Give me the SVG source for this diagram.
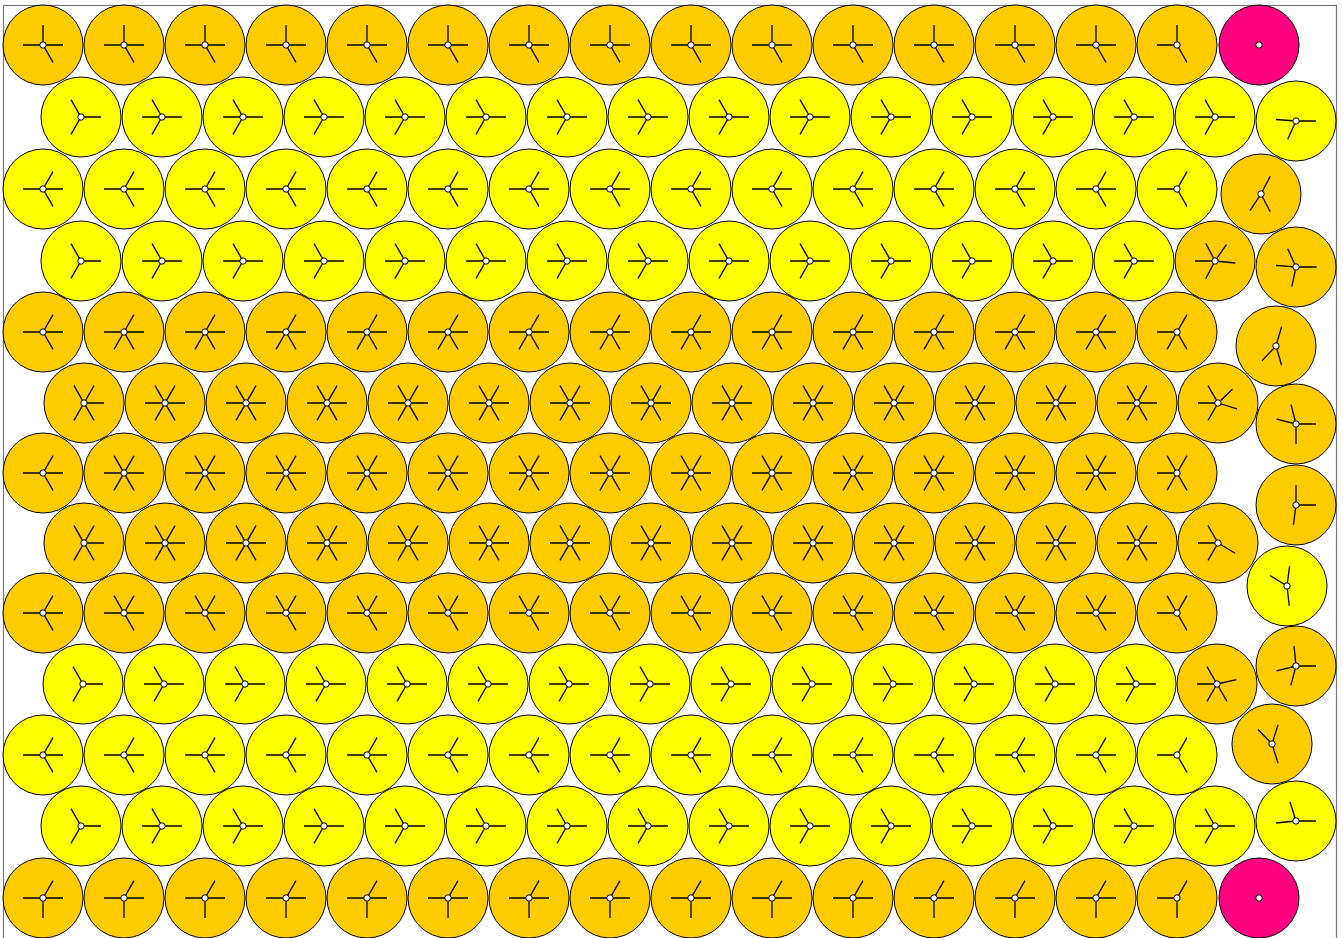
<svg xmlns="http://www.w3.org/2000/svg" xmlns:xlink="http://www.w3.org/1999/xlink" width="1343" height="938" viewBox="0 0 1343 938">
<style>
.o{fill:#FFCC00;stroke:#000;stroke-width:1}
.y{fill:#FFFF00;stroke:#000;stroke-width:1}
.m{fill:#FF0080;stroke:#000;stroke-width:1}
.s{fill:none;stroke:#000;stroke-width:1.3}
.d{fill:#fff;stroke:#000;stroke-width:1}
</style>
<defs>
<g id="P0"><path class="s" d="M-20 0H20M0 0V-20M0 0L10 17.32"/><circle class="d" r="3.2"/></g>
<g id="P0e"><path class="s" d="M-20 0H0V-20M0 0L10 17.32"/><circle class="d" r="3.2"/></g>
<g id="P1s"><path class="s" d="M20 0H0L-10 -17.32M0 0L-10 17.32"/><circle class="d" r="3.2"/></g>
<g id="P1"><path class="s" d="M-20 0H20M0 0L-10 -17.32M0 0L-10 17.32"/><circle class="d" r="3.2"/></g>
<g id="P2"><path class="s" d="M-20 0H20M0 0L10 -17.32M0 0L10 17.32"/><circle class="d" r="3.2"/></g>
<g id="P2e"><path class="s" d="M-20 0H0L10 -17.32M0 0L10 17.32"/><circle class="d" r="3.2"/></g>
<g id="P4"><path class="s" d="M-20 0H20M0 0L10 -17.32M0 0L10 17.32M0 0L-10 17.32"/><circle class="d" r="3.2"/></g>
<g id="P4e"><path class="s" d="M-20 0H0L10 -17.32M0 0L10 17.32M0 0L-10 17.32"/><circle class="d" r="3.2"/></g>
<g id="P5s"><path class="s" d="M20 0H0L-10 -17.32M0 0L10 -17.32M0 0L-10 17.32M0 0L10 17.32"/><circle class="d" r="3.2"/></g>
<g id="P6"><path class="s" d="M-20 0H20M-10 -17.32L10 17.32M10 -17.32L-10 17.32"/><circle class="d" r="3.2"/></g>
<g id="P6e"><path class="s" d="M-20 0H0L-10 -17.32M0 0L10 -17.32M0 0L-10 17.32M0 0L10 17.32"/><circle class="d" r="3.2"/></g>
<g id="P8"><path class="s" d="M-20 0H20M0 0L-10 -17.32M0 0L10 -17.32M0 0L10 17.32"/><circle class="d" r="3.2"/></g>
<g id="P8e"><path class="s" d="M-20 0H0L-10 -17.32M0 0L10 -17.32M0 0L10 17.32"/><circle class="d" r="3.2"/></g>
<g id="P12"><path class="s" d="M-20 0H20M0 0L10 -17.32M0 0V20"/><circle class="d" r="3.2"/></g>
<g id="P12e"><path class="s" d="M-20 0H0L10 -17.32M0 0V20"/><circle class="d" r="3.2"/></g>
<g id="PM"><circle class="d" r="3.2"/></g>
</defs>
<rect width="1343" height="938" fill="#fff"/>
<rect x="3.5" y="5.5" width="1333" height="940" fill="none" stroke="#777" stroke-width="1.2"/>
<g id="connectors"></g>

<!-- Row 0 -->
<g id="r0c0"><circle class="o" cx="43" cy="45" r="40"/><use href="#P0" x="43" y="45"/></g>
<g id="r0c1"><circle class="o" cx="124" cy="45" r="40"/><use href="#P0" x="124" y="45"/></g>
<g id="r0c2"><circle class="o" cx="205" cy="45" r="40"/><use href="#P0" x="205" y="45"/></g>
<g id="r0c3"><circle class="o" cx="286" cy="45" r="40"/><use href="#P0" x="286" y="45"/></g>
<g id="r0c4"><circle class="o" cx="367" cy="45" r="40"/><use href="#P0" x="367" y="45"/></g>
<g id="r0c5"><circle class="o" cx="448" cy="45" r="40"/><use href="#P0" x="448" y="45"/></g>
<g id="r0c6"><circle class="o" cx="529" cy="45" r="40"/><use href="#P0" x="529" y="45"/></g>
<g id="r0c7"><circle class="o" cx="610" cy="45" r="40"/><use href="#P0" x="610" y="45"/></g>
<g id="r0c8"><circle class="o" cx="691" cy="45" r="40"/><use href="#P0" x="691" y="45"/></g>
<g id="r0c9"><circle class="o" cx="772" cy="45" r="40"/><use href="#P0" x="772" y="45"/></g>
<g id="r0c10"><circle class="o" cx="853" cy="45" r="40"/><use href="#P0" x="853" y="45"/></g>
<g id="r0c11"><circle class="o" cx="934" cy="45" r="40"/><use href="#P0" x="934" y="45"/></g>
<g id="r0c12"><circle class="o" cx="1015" cy="45" r="40"/><use href="#P0" x="1015" y="45"/></g>
<g id="r0c13"><circle class="o" cx="1096" cy="45" r="40"/><use href="#P0" x="1096" y="45"/></g>
<g id="r0c14"><circle class="o" cx="1177" cy="45" r="40"/><use href="#P0e" x="1177" y="45"/></g>
<g id="r0c15"><circle class="m" cx="1259" cy="45" r="40"/><use href="#PM" x="1259" y="45"/></g>

<!-- Row 1 -->
<g id="r1c0"><circle class="y" cx="81" cy="117" r="40"/><use href="#P1s" x="81" y="117"/></g>
<g id="r1c1"><circle class="y" cx="162" cy="117" r="40"/><use href="#P1" x="162" y="117"/></g>
<g id="r1c2"><circle class="y" cx="243" cy="117" r="40"/><use href="#P1" x="243" y="117"/></g>
<g id="r1c3"><circle class="y" cx="324" cy="117" r="40"/><use href="#P1" x="324" y="117"/></g>
<g id="r1c4"><circle class="y" cx="405" cy="117" r="40"/><use href="#P1" x="405" y="117"/></g>
<g id="r1c5"><circle class="y" cx="486" cy="117" r="40"/><use href="#P1" x="486" y="117"/></g>
<g id="r1c6"><circle class="y" cx="567" cy="117" r="40"/><use href="#P1" x="567" y="117"/></g>
<g id="r1c7"><circle class="y" cx="648" cy="117" r="40"/><use href="#P1" x="648" y="117"/></g>
<g id="r1c8"><circle class="y" cx="729" cy="117" r="40"/><use href="#P1" x="729" y="117"/></g>
<g id="r1c9"><circle class="y" cx="810" cy="117" r="40"/><use href="#P1" x="810" y="117"/></g>
<g id="r1c10"><circle class="y" cx="891" cy="117" r="40"/><use href="#P1" x="891" y="117"/></g>
<g id="r1c11"><circle class="y" cx="972" cy="117" r="40"/><use href="#P1" x="972" y="117"/></g>
<g id="r1c12"><circle class="y" cx="1053" cy="117" r="40"/><use href="#P1" x="1053" y="117"/></g>
<g id="r1c13"><circle class="y" cx="1134" cy="117" r="40"/><use href="#P1" x="1134" y="117"/></g>
<g id="r1c14"><circle class="y" cx="1215" cy="117" r="40"/><use href="#P1" x="1215" y="117"/></g>
<g id="r1c15"><circle class="y" cx="1296" cy="121" r="40"/><path class="s" transform="translate(1296 121)" d="M-20 -1.5L0 0L20 0M0 0L-8.3 18.2"/><circle class="d" cx="1296" cy="121" r="3.2"/></g>

<!-- Row 2 -->
<g id="r2c0"><circle class="y" cx="43" cy="189" r="40"/><use href="#P2" x="43" y="189"/></g>
<g id="r2c1"><circle class="y" cx="124" cy="189" r="40"/><use href="#P2" x="124" y="189"/></g>
<g id="r2c2"><circle class="y" cx="205" cy="189" r="40"/><use href="#P2" x="205" y="189"/></g>
<g id="r2c3"><circle class="y" cx="286" cy="189" r="40"/><use href="#P2" x="286" y="189"/></g>
<g id="r2c4"><circle class="y" cx="367" cy="189" r="40"/><use href="#P2" x="367" y="189"/></g>
<g id="r2c5"><circle class="y" cx="448" cy="189" r="40"/><use href="#P2" x="448" y="189"/></g>
<g id="r2c6"><circle class="y" cx="529" cy="189" r="40"/><use href="#P2" x="529" y="189"/></g>
<g id="r2c7"><circle class="y" cx="610" cy="189" r="40"/><use href="#P2" x="610" y="189"/></g>
<g id="r2c8"><circle class="y" cx="691" cy="189" r="40"/><use href="#P2" x="691" y="189"/></g>
<g id="r2c9"><circle class="y" cx="772" cy="189" r="40"/><use href="#P2" x="772" y="189"/></g>
<g id="r2c10"><circle class="y" cx="853" cy="189" r="40"/><use href="#P2" x="853" y="189"/></g>
<g id="r2c11"><circle class="y" cx="934" cy="189" r="40"/><use href="#P2" x="934" y="189"/></g>
<g id="r2c12"><circle class="y" cx="1015" cy="189" r="40"/><use href="#P2" x="1015" y="189"/></g>
<g id="r2c13"><circle class="y" cx="1096" cy="189" r="40"/><use href="#P2" x="1096" y="189"/></g>
<g id="r2c14"><circle class="y" cx="1177" cy="189" r="40"/><use href="#P2e" x="1177" y="189"/></g>
<g id="r2c15"><circle class="o" cx="1261" cy="194" r="40"/><path class="s" transform="translate(1261 194)" d="M9.2 -17.8L0 0L-11 16.7M0 0L9.2 17.8"/><circle class="d" cx="1261" cy="194" r="3.2"/></g>

<!-- Row 3 -->
<g id="r3c0"><circle class="y" cx="81" cy="261" r="40"/><use href="#P1s" x="81" y="261"/></g>
<g id="r3c1"><circle class="y" cx="162" cy="261" r="40"/><use href="#P1" x="162" y="261"/></g>
<g id="r3c2"><circle class="y" cx="243" cy="261" r="40"/><use href="#P1" x="243" y="261"/></g>
<g id="r3c3"><circle class="y" cx="324" cy="261" r="40"/><use href="#P1" x="324" y="261"/></g>
<g id="r3c4"><circle class="y" cx="405" cy="261" r="40"/><use href="#P1" x="405" y="261"/></g>
<g id="r3c5"><circle class="y" cx="486" cy="261" r="40"/><use href="#P1" x="486" y="261"/></g>
<g id="r3c6"><circle class="y" cx="567" cy="261" r="40"/><use href="#P1" x="567" y="261"/></g>
<g id="r3c7"><circle class="y" cx="648" cy="261" r="40"/><use href="#P1" x="648" y="261"/></g>
<g id="r3c8"><circle class="y" cx="729" cy="261" r="40"/><use href="#P1" x="729" y="261"/></g>
<g id="r3c9"><circle class="y" cx="810" cy="261" r="40"/><use href="#P1" x="810" y="261"/></g>
<g id="r3c10"><circle class="y" cx="891" cy="261" r="40"/><use href="#P1" x="891" y="261"/></g>
<g id="r3c11"><circle class="y" cx="972" cy="261" r="40"/><use href="#P1" x="972" y="261"/></g>
<g id="r3c12"><circle class="y" cx="1053" cy="261" r="40"/><use href="#P1" x="1053" y="261"/></g>
<g id="r3c13"><circle class="y" cx="1134" cy="261" r="40"/><use href="#P1" x="1134" y="261"/></g>
<g id="r3c14"><circle class="o" cx="1215" cy="261" r="40"/><path class="s" transform="translate(1215 261)" d="M-20 0H0L20.3 2M0 0L-9.3 -17.7M0 0L11.4 -16.4M0 0L-9.3 17.7"/><circle class="d" cx="1215" cy="261" r="3.2"/></g>
<g id="r3c15"><circle class="o" cx="1296" cy="267" r="40"/><path class="s" transform="translate(1296 267)" d="M-20 -1.6L0 0L20.5 0M0 0L-8.3 -18.2M0 0L-4.2 19.6"/><circle class="d" cx="1296" cy="267" r="3.2"/></g>

<!-- Row 4 -->
<g id="r4c0"><circle class="o" cx="43" cy="332" r="40"/><use href="#P2" x="43" y="332"/></g>
<g id="r4c1"><circle class="o" cx="124" cy="332" r="40"/><use href="#P4" x="124" y="332"/></g>
<g id="r4c2"><circle class="o" cx="205" cy="332" r="40"/><use href="#P4" x="205" y="332"/></g>
<g id="r4c3"><circle class="o" cx="286" cy="332" r="40"/><use href="#P4" x="286" y="332"/></g>
<g id="r4c4"><circle class="o" cx="367" cy="332" r="40"/><use href="#P4" x="367" y="332"/></g>
<g id="r4c5"><circle class="o" cx="448" cy="332" r="40"/><use href="#P4" x="448" y="332"/></g>
<g id="r4c6"><circle class="o" cx="529" cy="332" r="40"/><use href="#P4" x="529" y="332"/></g>
<g id="r4c7"><circle class="o" cx="610" cy="332" r="40"/><use href="#P4" x="610" y="332"/></g>
<g id="r4c8"><circle class="o" cx="691" cy="332" r="40"/><use href="#P4" x="691" y="332"/></g>
<g id="r4c9"><circle class="o" cx="772" cy="332" r="40"/><use href="#P4" x="772" y="332"/></g>
<g id="r4c10"><circle class="o" cx="853" cy="332" r="40"/><use href="#P4" x="853" y="332"/></g>
<g id="r4c11"><circle class="o" cx="934" cy="332" r="40"/><use href="#P4" x="934" y="332"/></g>
<g id="r4c12"><circle class="o" cx="1015" cy="332" r="40"/><use href="#P4" x="1015" y="332"/></g>
<g id="r4c13"><circle class="o" cx="1096" cy="332" r="40"/><use href="#P4" x="1096" y="332"/></g>
<g id="r4c14"><circle class="o" cx="1177" cy="332" r="40"/><use href="#P4e" x="1177" y="332"/></g>
<g id="r4c15"><circle class="o" cx="1276" cy="346" r="40"/><path class="s" transform="translate(1276 346)" d="M5.6 -19.2L0 0L-14 14.6M0 0L5.6 19.2"/><circle class="d" cx="1276" cy="346" r="3.2"/></g>

<!-- Row 5 -->
<g id="r5c0"><circle class="o" cx="84" cy="403" r="40"/><use href="#P5s" x="84" y="403"/></g>
<g id="r5c1"><circle class="o" cx="165" cy="403" r="40"/><use href="#P6" x="165" y="403"/></g>
<g id="r5c2"><circle class="o" cx="246" cy="403" r="40"/><use href="#P6" x="246" y="403"/></g>
<g id="r5c3"><circle class="o" cx="327" cy="403" r="40"/><use href="#P6" x="327" y="403"/></g>
<g id="r5c4"><circle class="o" cx="408" cy="403" r="40"/><use href="#P6" x="408" y="403"/></g>
<g id="r5c5"><circle class="o" cx="489" cy="403" r="40"/><use href="#P6" x="489" y="403"/></g>
<g id="r5c6"><circle class="o" cx="570" cy="403" r="40"/><use href="#P6" x="570" y="403"/></g>
<g id="r5c7"><circle class="o" cx="651" cy="403" r="40"/><use href="#P6" x="651" y="403"/></g>
<g id="r5c8"><circle class="o" cx="732" cy="403" r="40"/><use href="#P6" x="732" y="403"/></g>
<g id="r5c9"><circle class="o" cx="813" cy="403" r="40"/><use href="#P6" x="813" y="403"/></g>
<g id="r5c10"><circle class="o" cx="894" cy="403" r="40"/><use href="#P6" x="894" y="403"/></g>
<g id="r5c11"><circle class="o" cx="975" cy="403" r="40"/><use href="#P6" x="975" y="403"/></g>
<g id="r5c12"><circle class="o" cx="1056" cy="403" r="40"/><use href="#P6" x="1056" y="403"/></g>
<g id="r5c13"><circle class="o" cx="1137" cy="403" r="40"/><use href="#P6" x="1137" y="403"/></g>
<g id="r5c14"><circle class="o" cx="1218" cy="403" r="40"/><path class="s" transform="translate(1218 403)" d="M-20 0H0L-10 -17.3M0 0L14.5 -13.8M0 0L-10 17.3M0 0L19.1 5.9"/><circle class="d" cx="1218" cy="403" r="3.2"/></g>
<g id="r5c15"><circle class="o" cx="1296" cy="424" r="40"/><path class="s" transform="translate(1296 424)" d="M-19.4 -4.9L0 0L20 0M0 0L-5 -19.4M0 0V20"/><circle class="d" cx="1296" cy="424" r="3.2"/></g>

<!-- Row 6 -->
<g id="r6c0"><circle class="o" cx="43" cy="473" r="40"/><use href="#P2" x="43" y="473"/></g>
<g id="r6c1"><circle class="o" cx="124" cy="473" r="40"/><use href="#P6" x="124" y="473"/></g>
<g id="r6c2"><circle class="o" cx="205" cy="473" r="40"/><use href="#P6" x="205" y="473"/></g>
<g id="r6c3"><circle class="o" cx="286" cy="473" r="40"/><use href="#P6" x="286" y="473"/></g>
<g id="r6c4"><circle class="o" cx="367" cy="473" r="40"/><use href="#P6" x="367" y="473"/></g>
<g id="r6c5"><circle class="o" cx="448" cy="473" r="40"/><use href="#P6" x="448" y="473"/></g>
<g id="r6c6"><circle class="o" cx="529" cy="473" r="40"/><use href="#P6" x="529" y="473"/></g>
<g id="r6c7"><circle class="o" cx="610" cy="473" r="40"/><use href="#P6" x="610" y="473"/></g>
<g id="r6c8"><circle class="o" cx="691" cy="473" r="40"/><use href="#P6" x="691" y="473"/></g>
<g id="r6c9"><circle class="o" cx="772" cy="473" r="40"/><use href="#P6" x="772" y="473"/></g>
<g id="r6c10"><circle class="o" cx="853" cy="473" r="40"/><use href="#P6" x="853" y="473"/></g>
<g id="r6c11"><circle class="o" cx="934" cy="473" r="40"/><use href="#P6" x="934" y="473"/></g>
<g id="r6c12"><circle class="o" cx="1015" cy="473" r="40"/><use href="#P6" x="1015" y="473"/></g>
<g id="r6c13"><circle class="o" cx="1096" cy="473" r="40"/><use href="#P6" x="1096" y="473"/></g>
<g id="r6c14"><circle class="o" cx="1177" cy="473" r="40"/><use href="#P6e" x="1177" y="473"/></g>
<g id="r6c15"><circle class="o" cx="1296" cy="505" r="40"/><path class="s" transform="translate(1296 505)" d="M0 -20V0H20M0 0L-2.6 19.8"/><circle class="d" cx="1296" cy="505" r="3.2"/></g>

<!-- Row 7 -->
<g id="r7c0"><circle class="o" cx="84" cy="543" r="40"/><use href="#P5s" x="84" y="543"/></g>
<g id="r7c1"><circle class="o" cx="165" cy="543" r="40"/><use href="#P6" x="165" y="543"/></g>
<g id="r7c2"><circle class="o" cx="246" cy="543" r="40"/><use href="#P6" x="246" y="543"/></g>
<g id="r7c3"><circle class="o" cx="327" cy="543" r="40"/><use href="#P6" x="327" y="543"/></g>
<g id="r7c4"><circle class="o" cx="408" cy="543" r="40"/><use href="#P6" x="408" y="543"/></g>
<g id="r7c5"><circle class="o" cx="489" cy="543" r="40"/><use href="#P6" x="489" y="543"/></g>
<g id="r7c6"><circle class="o" cx="570" cy="543" r="40"/><use href="#P6" x="570" y="543"/></g>
<g id="r7c7"><circle class="o" cx="651" cy="543" r="40"/><use href="#P6" x="651" y="543"/></g>
<g id="r7c8"><circle class="o" cx="732" cy="543" r="40"/><use href="#P6" x="732" y="543"/></g>
<g id="r7c9"><circle class="o" cx="813" cy="543" r="40"/><use href="#P6" x="813" y="543"/></g>
<g id="r7c10"><circle class="o" cx="894" cy="543" r="40"/><use href="#P6" x="894" y="543"/></g>
<g id="r7c11"><circle class="o" cx="975" cy="543" r="40"/><use href="#P6" x="975" y="543"/></g>
<g id="r7c12"><circle class="o" cx="1056" cy="543" r="40"/><use href="#P6" x="1056" y="543"/></g>
<g id="r7c13"><circle class="o" cx="1137" cy="543" r="40"/><use href="#P6" x="1137" y="543"/></g>
<g id="r7c14"><circle class="o" cx="1218" cy="543" r="40"/><path class="s" transform="translate(1218 543)" d="M-20 0H0L-10 -17.3M0 0L-10 17.3M0 0L17.2 10.2"/><circle class="d" cx="1218" cy="543" r="3.2"/></g>
<g id="r7c15"><circle class="y" cx="1287" cy="586" r="40"/><path class="s" transform="translate(1287 586)" d="M-17 -10.5L0 0M2.6 -19.8L0 0L2.3 19.8"/><circle class="d" cx="1287" cy="586" r="3.2"/></g>

<!-- Row 8 -->
<g id="r8c0"><circle class="o" cx="43" cy="613" r="40"/><use href="#P2" x="43" y="613"/></g>
<g id="r8c1"><circle class="o" cx="124" cy="613" r="40"/><use href="#P8" x="124" y="613"/></g>
<g id="r8c2"><circle class="o" cx="205" cy="613" r="40"/><use href="#P8" x="205" y="613"/></g>
<g id="r8c3"><circle class="o" cx="286" cy="613" r="40"/><use href="#P8" x="286" y="613"/></g>
<g id="r8c4"><circle class="o" cx="367" cy="613" r="40"/><use href="#P8" x="367" y="613"/></g>
<g id="r8c5"><circle class="o" cx="448" cy="613" r="40"/><use href="#P8" x="448" y="613"/></g>
<g id="r8c6"><circle class="o" cx="529" cy="613" r="40"/><use href="#P8" x="529" y="613"/></g>
<g id="r8c7"><circle class="o" cx="610" cy="613" r="40"/><use href="#P8" x="610" y="613"/></g>
<g id="r8c8"><circle class="o" cx="691" cy="613" r="40"/><use href="#P8" x="691" y="613"/></g>
<g id="r8c9"><circle class="o" cx="772" cy="613" r="40"/><use href="#P8" x="772" y="613"/></g>
<g id="r8c10"><circle class="o" cx="853" cy="613" r="40"/><use href="#P8" x="853" y="613"/></g>
<g id="r8c11"><circle class="o" cx="934" cy="613" r="40"/><use href="#P8" x="934" y="613"/></g>
<g id="r8c12"><circle class="o" cx="1015" cy="613" r="40"/><use href="#P8" x="1015" y="613"/></g>
<g id="r8c13"><circle class="o" cx="1096" cy="613" r="40"/><use href="#P8" x="1096" y="613"/></g>
<g id="r8c14"><circle class="o" cx="1177" cy="613" r="40"/><use href="#P8e" x="1177" y="613"/></g>
<g id="r8c15"><circle class="o" cx="1296" cy="666" r="40"/><path class="s" transform="translate(1296 666)" d="M-2 -19.9L0 0L20 0M-19.4 4.9L0 0L-5.2 19.3"/><circle class="d" cx="1296" cy="666" r="3.2"/></g>

<!-- Row 9 -->
<g id="r9c0"><circle class="y" cx="83" cy="684" r="40"/><use href="#P1s" x="83" y="684"/></g>
<g id="r9c1"><circle class="y" cx="164" cy="684" r="40"/><use href="#P1" x="164" y="684"/></g>
<g id="r9c2"><circle class="y" cx="245" cy="684" r="40"/><use href="#P1" x="245" y="684"/></g>
<g id="r9c3"><circle class="y" cx="326" cy="684" r="40"/><use href="#P1" x="326" y="684"/></g>
<g id="r9c4"><circle class="y" cx="407" cy="684" r="40"/><use href="#P1" x="407" y="684"/></g>
<g id="r9c5"><circle class="y" cx="488" cy="684" r="40"/><use href="#P1" x="488" y="684"/></g>
<g id="r9c6"><circle class="y" cx="569" cy="684" r="40"/><use href="#P1" x="569" y="684"/></g>
<g id="r9c7"><circle class="y" cx="650" cy="684" r="40"/><use href="#P1" x="650" y="684"/></g>
<g id="r9c8"><circle class="y" cx="731" cy="684" r="40"/><use href="#P1" x="731" y="684"/></g>
<g id="r9c9"><circle class="y" cx="812" cy="684" r="40"/><use href="#P1" x="812" y="684"/></g>
<g id="r9c10"><circle class="y" cx="893" cy="684" r="40"/><use href="#P1" x="893" y="684"/></g>
<g id="r9c11"><circle class="y" cx="974" cy="684" r="40"/><use href="#P1" x="974" y="684"/></g>
<g id="r9c12"><circle class="y" cx="1055" cy="684" r="40"/><use href="#P1" x="1055" y="684"/></g>
<g id="r9c13"><circle class="y" cx="1136" cy="684" r="40"/><use href="#P1" x="1136" y="684"/></g>
<g id="r9c14"><circle class="o" cx="1217" cy="684" r="40"/><path class="s" transform="translate(1217 684)" d="M-20 0H0L-10 -17.3M0 0L-10 17.3M0 0L19.5 -4.3M0 0L10 17.3"/><circle class="d" cx="1217" cy="684" r="3.2"/></g>
<g id="r9c15"><circle class="o" cx="1272" cy="744" r="40"/><path class="s" transform="translate(1272 744)" d="M-14 -14.5L0 0L6 -19.1M0 0L6 19.1"/><circle class="d" cx="1272" cy="744" r="3.2"/></g>

<!-- Row 10 -->
<g id="r10c0"><circle class="y" cx="43" cy="755" r="40"/><use href="#P2" x="43" y="755"/></g>
<g id="r10c1"><circle class="y" cx="124" cy="755" r="40"/><use href="#P2" x="124" y="755"/></g>
<g id="r10c2"><circle class="y" cx="205" cy="755" r="40"/><use href="#P2" x="205" y="755"/></g>
<g id="r10c3"><circle class="y" cx="286" cy="755" r="40"/><use href="#P2" x="286" y="755"/></g>
<g id="r10c4"><circle class="y" cx="367" cy="755" r="40"/><use href="#P2" x="367" y="755"/></g>
<g id="r10c5"><circle class="y" cx="448" cy="755" r="40"/><use href="#P2" x="448" y="755"/></g>
<g id="r10c6"><circle class="y" cx="529" cy="755" r="40"/><use href="#P2" x="529" y="755"/></g>
<g id="r10c7"><circle class="y" cx="610" cy="755" r="40"/><use href="#P2" x="610" y="755"/></g>
<g id="r10c8"><circle class="y" cx="691" cy="755" r="40"/><use href="#P2" x="691" y="755"/></g>
<g id="r10c9"><circle class="y" cx="772" cy="755" r="40"/><use href="#P2" x="772" y="755"/></g>
<g id="r10c10"><circle class="y" cx="853" cy="755" r="40"/><use href="#P2" x="853" y="755"/></g>
<g id="r10c11"><circle class="y" cx="934" cy="755" r="40"/><use href="#P2" x="934" y="755"/></g>
<g id="r10c12"><circle class="y" cx="1015" cy="755" r="40"/><use href="#P2" x="1015" y="755"/></g>
<g id="r10c13"><circle class="y" cx="1096" cy="755" r="40"/><use href="#P2" x="1096" y="755"/></g>
<g id="r10c14"><circle class="y" cx="1177" cy="755" r="40"/><use href="#P2e" x="1177" y="755"/></g>

<!-- Row 11 -->
<g id="r11c0"><circle class="y" cx="81" cy="826" r="40"/><use href="#P1s" x="81" y="826"/></g>
<g id="r11c1"><circle class="y" cx="162" cy="826" r="40"/><use href="#P1" x="162" y="826"/></g>
<g id="r11c2"><circle class="y" cx="243" cy="826" r="40"/><use href="#P1" x="243" y="826"/></g>
<g id="r11c3"><circle class="y" cx="324" cy="826" r="40"/><use href="#P1" x="324" y="826"/></g>
<g id="r11c4"><circle class="y" cx="405" cy="826" r="40"/><use href="#P1" x="405" y="826"/></g>
<g id="r11c5"><circle class="y" cx="486" cy="826" r="40"/><use href="#P1" x="486" y="826"/></g>
<g id="r11c6"><circle class="y" cx="567" cy="826" r="40"/><use href="#P1" x="567" y="826"/></g>
<g id="r11c7"><circle class="y" cx="648" cy="826" r="40"/><use href="#P1" x="648" y="826"/></g>
<g id="r11c8"><circle class="y" cx="729" cy="826" r="40"/><use href="#P1" x="729" y="826"/></g>
<g id="r11c9"><circle class="y" cx="810" cy="826" r="40"/><use href="#P1" x="810" y="826"/></g>
<g id="r11c10"><circle class="y" cx="891" cy="826" r="40"/><use href="#P1" x="891" y="826"/></g>
<g id="r11c11"><circle class="y" cx="972" cy="826" r="40"/><use href="#P1" x="972" y="826"/></g>
<g id="r11c12"><circle class="y" cx="1053" cy="826" r="40"/><use href="#P1" x="1053" y="826"/></g>
<g id="r11c13"><circle class="y" cx="1134" cy="826" r="40"/><use href="#P1" x="1134" y="826"/></g>
<g id="r11c14"><circle class="y" cx="1215" cy="826" r="40"/><use href="#P1" x="1215" y="826"/></g>
<g id="r11c15"><circle class="y" cx="1296" cy="821" r="40"/><path class="s" transform="translate(1296 821)" d="M-6 -19.1L0 0L20 0M-19.9 2L0 0"/><circle class="d" cx="1296" cy="821" r="3.2"/></g>

<!-- Row 12 -->
<g id="r12c0"><circle class="o" cx="43" cy="898" r="40"/><use href="#P12" x="43" y="898"/></g>
<g id="r12c1"><circle class="o" cx="124" cy="898" r="40"/><use href="#P12" x="124" y="898"/></g>
<g id="r12c2"><circle class="o" cx="205" cy="898" r="40"/><use href="#P12" x="205" y="898"/></g>
<g id="r12c3"><circle class="o" cx="286" cy="898" r="40"/><use href="#P12" x="286" y="898"/></g>
<g id="r12c4"><circle class="o" cx="367" cy="898" r="40"/><use href="#P12" x="367" y="898"/></g>
<g id="r12c5"><circle class="o" cx="448" cy="898" r="40"/><use href="#P12" x="448" y="898"/></g>
<g id="r12c6"><circle class="o" cx="529" cy="898" r="40"/><use href="#P12" x="529" y="898"/></g>
<g id="r12c7"><circle class="o" cx="610" cy="898" r="40"/><use href="#P12" x="610" y="898"/></g>
<g id="r12c8"><circle class="o" cx="691" cy="898" r="40"/><use href="#P12" x="691" y="898"/></g>
<g id="r12c9"><circle class="o" cx="772" cy="898" r="40"/><use href="#P12" x="772" y="898"/></g>
<g id="r12c10"><circle class="o" cx="853" cy="898" r="40"/><use href="#P12" x="853" y="898"/></g>
<g id="r12c11"><circle class="o" cx="934" cy="898" r="40"/><use href="#P12" x="934" y="898"/></g>
<g id="r12c12"><circle class="o" cx="1015" cy="898" r="40"/><use href="#P12" x="1015" y="898"/></g>
<g id="r12c13"><circle class="o" cx="1096" cy="898" r="40"/><use href="#P12" x="1096" y="898"/></g>
<g id="r12c14"><circle class="o" cx="1177" cy="898" r="40"/><use href="#P12e" x="1177" y="898"/></g>
<g id="r12c15"><circle class="m" cx="1259" cy="898" r="40"/><use href="#PM" x="1259" y="898"/></g>
</svg>
